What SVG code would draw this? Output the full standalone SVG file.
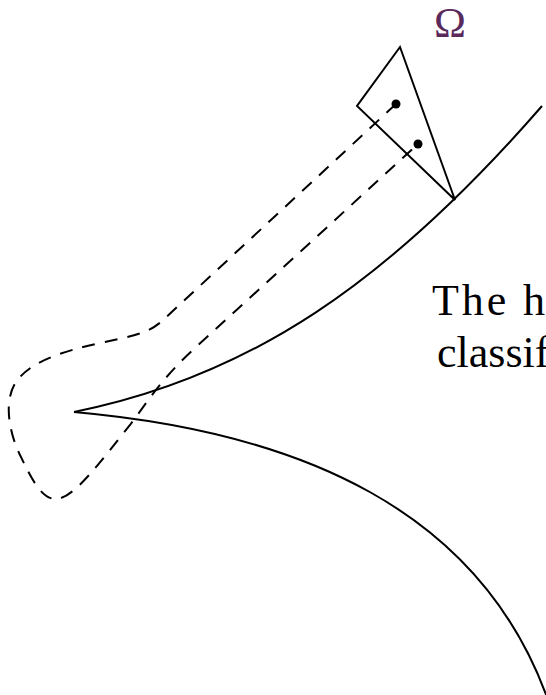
<svg xmlns="http://www.w3.org/2000/svg" width="546" height="695" viewBox="0 0 546 695">
  <style>
    .solid { fill: none; stroke: #000; stroke-width: 2; stroke-linejoin: miter; }
    .dash { fill: none; stroke: #000; stroke-width: 2; stroke-dasharray: 13 10; }
    .lbl { font-family: "Liberation Serif", "Times New Roman", serif; fill: #000; }
    .omega { font-family: "Liberation Serif", "Times New Roman", serif; fill: #5a2a5c; }
  </style>
  <rect width="546" height="695" fill="#fff"/>
  <g id="curves">
    <path id="upper-branch" class="solid" d="M74,412 C249,377 387,284 542,106"/>
    <path id="lower-branch" class="solid" d="M74,412 C300,432 480,510 548,700"/>
  </g>
  <g id="connectors">
    <path id="loop" class="dash" d="M396,104 L162,321 C148,334 128,337 100,343 C60,352 30,362 16,382 C4,400 8,430 20,455 C32,480 42,500 57,499 C75,497 100,462 130,425 C150,398 165,375 195,348 L418,144"/>
  </g>
  <g id="omega-set">
    <polygon class="solid" points="400,47 357,106 455,200"/>
    <circle cx="396" cy="104" r="4.5" fill="#000"/>
    <circle cx="418" cy="144" r="4.5" fill="#000"/>
    <text class="omega" x="450" y="37" font-size="43" text-anchor="middle">Ω</text>
  </g>
  <g id="caption">
    <text class="lbl" x="432" y="315" font-size="44" textLength="113" lengthAdjust="spacing">The h</text>
    <text class="lbl" x="437" y="367" font-size="44">classif</text>
  </g>
</svg>
